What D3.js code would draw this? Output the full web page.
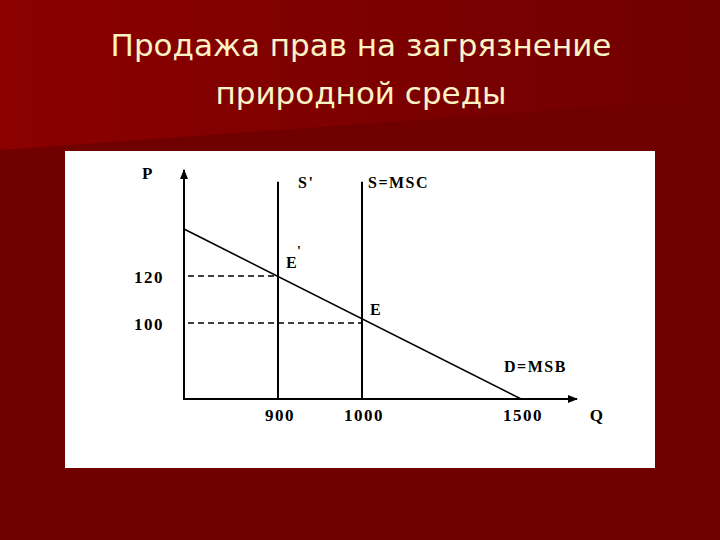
<!DOCTYPE html>
<html>
<head>
<meta charset="utf-8">
<script src="https://cdn.jsdelivr.net/npm/d3@7"></script>
<style>
  body { margin: 0; background: #700000; }
  svg { display: block; }
</style>
</head>
<body>
<div id="chart"></div>
<script>
// Chart data (schematic market for pollution rights)
var titleLines = ["Продажа прав на загрязнение", "природной среды"];
var qTicks = [900, 1000, 1500];
var pTicks = [100, 120];
var supplyQ = [900, 1000];
var supplyNames = ["S'", "S=MSC"];
var demandQ = [0, 1500];
var demandP = [140, 0];
var eqNames = ["E", "E"];
var eqQ = [900, 1000];
var eqP = [120, 100];

var w = 720;
var h = 540;

var svg = d3.select("#chart")
    .append("svg")
    .attr("width", w)
    .attr("height", h);

// background: dark red with a lighter band on top
var defs = svg.append("defs");
var grad = defs.append("linearGradient")
    .attr("id", "topband")
    .attr("x1", "0%").attr("x2", "100%")
    .attr("y1", "0%").attr("y2", "0%");
grad.append("stop").attr("offset", "0%").attr("stop-color", "#8c0000");
grad.append("stop").attr("offset", "55%").attr("stop-color", "#7c0000");
grad.append("stop").attr("offset", "100%").attr("stop-color", "#700000");

svg.append("rect")
    .attr("width", w)
    .attr("height", h)
    .attr("fill", "#700000");

svg.append("path")
    .attr("d", "M0,0 L720,0 L720,98 L0,150 Z")
    .attr("fill", "url(#topband)");

// title
svg.selectAll("text.title")
    .data(titleLines)
    .enter()
    .append("text")
    .attr("class", "title")
    .attr("x", 361)
    .attr("y", function(d, i) { return 56 + i * 48; })
    .attr("text-anchor", "middle")
    .attr("fill", "#fbf2c6")
    .style("font-family", "'DejaVu Sans', sans-serif")
    .style("font-size", "31px")
    .text(function(d) { return d; });

// white panel
svg.append("rect")
    .attr("x", 65)
    .attr("y", 151)
    .attr("width", 590)
    .attr("height", 317)
    .attr("fill", "#ffffff");

// schematic (piecewise) scales
var xScale = d3.scaleLinear()
    .domain([0, 900, 1000, 1500, 1560])
    .range([184, 278, 362, 521, 577]);

var yScale = d3.scaleLinear()
    .domain([0, 100, 120, 140, 160])
    .range([399, 323, 276, 229, 170]);

var qMax = 1560;
var pMax = 160;
var supplyTop = 156;

defs.append("marker")
    .attr("id", "arrow")
    .attr("viewBox", "0 0 10 10")
    .attr("refX", 9)
    .attr("refY", 5)
    .attr("markerWidth", 5)
    .attr("markerHeight", 5)
    .attr("markerUnits", "strokeWidth")
    .attr("orient", "auto")
    .append("path")
    .attr("d", "M0,1 L10,5 L0,9 Z")
    .attr("fill", "#000");

var g = svg.append("g");

// axes
g.append("line")
    .attr("x1", xScale(0)).attr("y1", yScale(0))
    .attr("x2", xScale(0)).attr("y2", yScale(pMax))
    .attr("stroke", "#000")
    .attr("stroke-width", 2)
    .attr("marker-end", "url(#arrow)");

g.append("line")
    .attr("x1", xScale(0) - 1).attr("y1", yScale(0))
    .attr("x2", xScale(qMax)).attr("y2", yScale(0))
    .attr("stroke", "#000")
    .attr("stroke-width", 2)
    .attr("marker-end", "url(#arrow)");

// dashed price guides
g.selectAll("line.guide")
    .data(d3.range(eqQ.length))
    .enter()
    .append("line")
    .attr("class", "guide")
    .attr("x1", xScale(0) + 4)
    .attr("x2", function(i) { return xScale(eqQ[i]); })
    .attr("y1", function(i) { return yScale(eqP[i]); })
    .attr("y2", function(i) { return yScale(eqP[i]); })
    .attr("stroke", "#000")
    .attr("stroke-width", 1.5)
    .attr("stroke-dasharray", "6,4");

// vertical supply lines
g.selectAll("line.supply")
    .data(supplyQ)
    .enter()
    .append("line")
    .attr("class", "supply")
    .attr("x1", function(d) { return xScale(d); })
    .attr("x2", function(d) { return xScale(d); })
    .attr("y1", yScale(0))
    .attr("y2", yScale(supplyTop))
    .attr("stroke", "#000")
    .attr("stroke-width", 2);

// demand line
var line = d3.line()
    .x(function(i) { return xScale(demandQ[i]); })
    .y(function(i) { return yScale(demandP[i]); });

g.append("path")
    .attr("d", line(d3.range(demandQ.length)))
    .attr("fill", "none")
    .attr("stroke", "#000")
    .attr("stroke-width", 1.6);

// labels
var font = "'Liberation Serif', 'Times New Roman', serif";

function label(x, y, txt, anchor, size) {
    return g.append("text")
        .attr("x", x)
        .attr("y", y)
        .attr("text-anchor", anchor || "start")
        .attr("dominant-baseline", "middle")
        .style("font-family", font)
        .style("font-weight", "bold")
        .style("font-size", (size || 16) + "px")
        .style("letter-spacing", "1.5px")
        .attr("fill", "#000")
        .text(txt);
}

label(xScale(0) - 36, yScale(pMax) + 5, "P", "middle", 17);
label(xScale(qMax) + 20, yScale(0) + 18, "Q", "middle", 17);

pTicks.forEach(function(d) {
    label(xScale(0) - 20, yScale(d) + 3, d, "end", 17);
});

qTicks.forEach(function(d) {
    label(xScale(d) + 2, yScale(0) + 18, d, "middle", 17);
});

supplyQ.forEach(function(d, i) {
    label(xScale(d) + 20 - (i * 14), yScale(supplyTop) + 3, supplyNames[i], "start", 16);
});

eqQ.forEach(function(d, i) {
    label(xScale(d) + 8, yScale(eqP[i]) - 12, eqNames[i], "start", 16);
});
// prime mark on E'
label(xScale(eqQ[0]) + 19, yScale(eqP[0]) - 23, "'", "start", 14);

label(xScale(1500) - 17, yScale(0) - 31, "D=MSB", "start", 16);
</script>
</body>
</html>
